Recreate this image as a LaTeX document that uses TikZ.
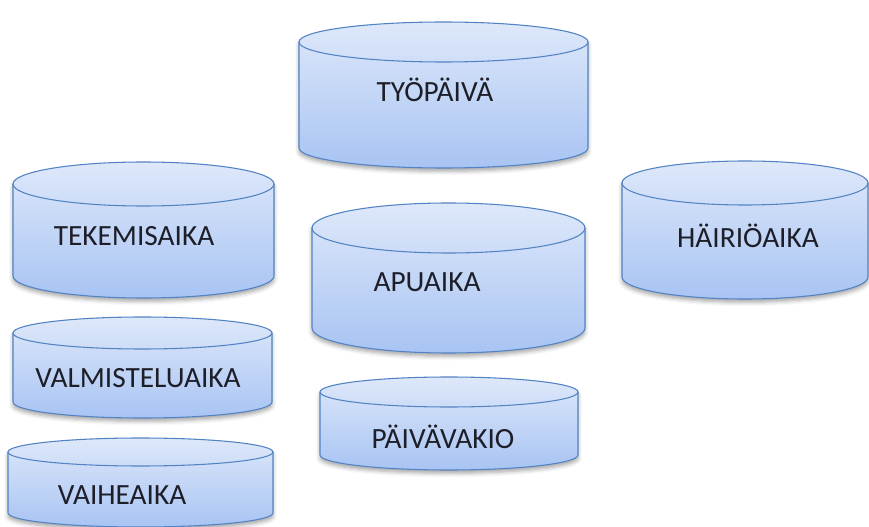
\documentclass[tikz,border=0pt]{standalone}
\usepackage{fontspec}
\setmainfont{Carlito}
\usetikzlibrary{shadows.blur}
\definecolor{DrumLine}{HTML}{5283C4}
\definecolor{DrumTop}{HTML}{DEE8FA}
\definecolor{DrumBottom}{HTML}{A8C4F3}
\definecolor{DrumText}{HTML}{1E1E28}

\begin{document}
\begin{tikzpicture}[x=0.75pt,y=0.75pt,line cap=round,line join=round,
  drum/.style={draw=DrumLine,line width=0.8pt,top color=DrumTop,bottom color=DrumBottom,
    blur shadow={shadow xshift=0pt,shadow yshift=-2.5pt,shadow blur radius=3pt,shadow opacity=35}},
  drumrim/.style={draw=DrumLine,line width=0.8pt},
  drumlabel/.style={text=DrumText,font=\fontsize{22}{26}\selectfont,inner sep=0pt}]
  \useasboundingbox (0,0) rectangle (869,526);
  % left x / right x / top y / bottom y / y radius
  \foreach \l/\r/\t/\b/\ry in {299/588/484/378/20, 13/274/342/250/22, 312/585/298/198/25,
      622/868/343/249/22, 13/272/193/124/16, 320/578/134/71/15, 8/273/74/13/14}{
    \pgfmathsetmacro{\drumrx}{(\r-\l)/2}
    \draw[drum] (\l,\t) -- (\l,\b) arc[start angle=180,end angle=360,x radius=\drumrx,y radius=\ry]
      -- (\r,\t) arc[start angle=0,end angle=180,x radius=\drumrx,y radius=\ry] -- cycle;
    \draw[drumrim] (\l,\t) arc[start angle=180,end angle=360,x radius=\drumrx,y radius=\ry];
  }
  \node[drumlabel] (tyopaiva) at (435,436) {TYÖPÄIVÄ};
  \node[drumlabel] (tekemisaika) at (134,290) {TEKEMISAIKA};
  \node[drumlabel] (apuaika) at (427,244) {APUAIKA};
  \node[drumlabel] (hairioaika) at (748,290) {HÄIRIÖAIKA};
  \node[drumlabel] (valmisteluaika) at (138,148) {VALMISTELUAIKA};
  \node[drumlabel] (paivavakio) at (443,89) {PÄIVÄVAKIO};
  \node[drumlabel] (vaiheaika) at (122,31) {VAIHEAIKA};
\end{tikzpicture}
\end{document}
